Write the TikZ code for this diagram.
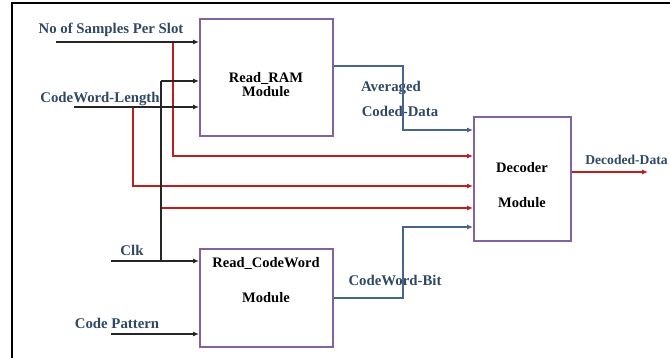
\documentclass[tikz,border=0pt]{standalone}
\usepackage{fontspec}
\setmainfont{Liberation Serif}
\usetikzlibrary{arrows.meta}
\definecolor{boxpurple}{RGB}{128,100,162}
\definecolor{lblue}{RGB}{47,72,100}
\definecolor{wred}{RGB}{192,30,30}
\definecolor{wblue}{RGB}{70,100,140}
\tikzset{
  module/.style={draw=boxpurple,line width=2pt,inner sep=0pt},
  lbl/.style={text=lblue,font=\bfseries\fontsize{14.8}{16}\selectfont,inner sep=0pt},
  btxt/.style={text=black,font=\bfseries\fontsize{14.5}{16}\selectfont,inner sep=0pt},
  blk/.style={draw=black!85,line width=1.1pt,-{Latex[length=6pt,width=5pt]}},
  redl/.style={draw=wred,line width=1.1pt,-{Latex[length=6pt,width=5pt]}},
  bluel/.style={draw=wblue,line width=1.1pt,-{Latex[length=6pt,width=5pt]}},
  plain/.style={line width=1.1pt}
}
\begin{document}
\begin{tikzpicture}[x=1pt,y=-1pt]
\useasboundingbox (0,0) rectangle (670,358);
% frame
\draw[line width=1.5pt] (12,358) -- (12,3) -- (670,3);
% boxes
\node[module,minimum width=133pt,minimum height=117pt] (ram) at (266.5,77.5) {};
\node[module,minimum width=133pt,minimum height=98pt] (cw) at (266.5,298) {};
\node[module,minimum width=97pt,minimum height=124pt] (dec) at (522.5,179) {};
\node[btxt] (ramt1) at (266,78) {Read\_RAM};
\node[btxt] (ramt2) at (266,92) {Module};
\node[btxt] (cwt1) at (266,263) {Read\_CodeWord};
\node[btxt] (cwt2) at (266,298) {Module};
\node[btxt] (dect1) at (522,168) {Decoder};
\node[btxt] (dect2) at (522,203) {Module};
% labels
\node[lbl] (lns) at (111,30) {No of Samples Per Slot};
\node[lbl] (lcl) at (100,99) {CodeWord-Length};
\node[lbl] (lclk) at (132,250) {Clk};
\node[lbl] (lcp) at (117,323) {Code Pattern};
\node[lbl] (lav1) at (391,88) {Averaged};
\node[lbl] (lav2) at (400,111) {Coded-Data};
\node[lbl] (lcwb) at (395,280) {CodeWord-Bit};
\node[lbl,font=\bfseries\fontsize{13.6}{15}\selectfont] (ldd) at (626.5,160) {Decoded-Data};
% coordinates
\coordinate (ns0) at (56,42);
\coordinate (cl0) at (74,107);
\coordinate (ck0) at (111,261);
\coordinate (cp0) at (111,334);
\coordinate (dd1) at (648,172);
% red feeds to decoder
\draw[redl] (173,42) |- (dec.west |- 0,156);
\draw[redl] (133,107) |- (dec.west |- 0,186);
\draw[redl] (161,208) -- (dec.west |- 0,208);
% black inputs
\draw[blk] (ns0) -- (ram.west |- ns0);
\draw[blk] (cl0) -- (ram.west |- cl0);
\draw[blk] (ck0) -- (cw.west |- ck0);
\draw[blk] (cp0) -- (cw.west |- cp0);
\draw[plain,black!85] (161,261) -- (161,81);
\draw[blk] (161,81) -- (ram.west |- 0,81);
% blue connectors
\draw[bluel] (ram.east |- 0,66) -| (403,130) -- (dec.west |- 0,130);
\draw[bluel] (cw.east |- 0,298) -| (403,227) -- (dec.west |- 0,227);
% output
\draw[redl] (dec.east |- dd1) -- (dd1);
\end{tikzpicture}
\end{document}
